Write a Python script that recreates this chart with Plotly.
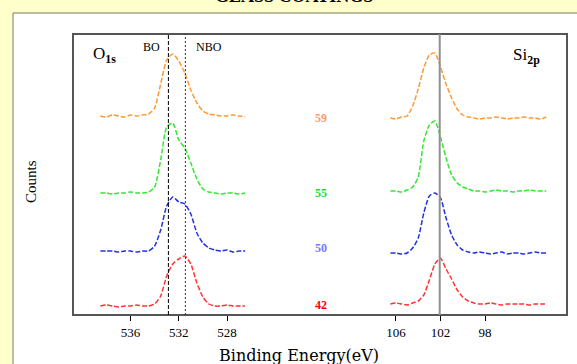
import plotly.graph_objects as go

# ---------------- data ----------------
series_names = ["59", "55", "50", "42"]
series_colors = ["#FF9933", "#33E833", "#2233DD", "#FF3333"]
label_colors = ["#FF9966", "#22DD22", "#7777FF", "#FF0000"]

# O 1s binding energies (eV)
o1s_energy = [538.5, 538.0, 537.5, 537.0, 536.5, 536.0, 535.5, 535.0, 534.5, 534.0,
              533.5, 533.0, 532.5, 532.0, 531.5, 531.0, 530.5, 530.0, 529.5, 529.0,
              528.5, 528.0, 527.5, 527.0, 526.5]
# intensities above each spectrum's baseline (a.u.)
o1s_59 = [0, -1, 1, 0, -1, 1, 0, 1, 2, 8, 32, 56, 62, 55, 43, 26, 13, 5, 2, 1, 0, 0, 1, 0, -1]
o1s_55 = [0, 0, -1, 0, 0, 1, 0, 0, 1, 6, 33, 66, 70, 53, 45, 30, 14, 4, 1, 0, -1, 0, 0, -1, 0]
o1s_50 = [0, 0, 0, -1, 0, 0, -1, 0, 0, 5, 21, 45, 54, 49, 47, 37, 18, 8, 3, 1, 0, 1, -1, 0, 0]
o1s_42 = [0, 1, 0, -1, 0, 0, 1, 0, 0, 2, 10, 30, 42, 47, 50, 42, 23, 9, 2, 0, 0, 1, 0, 0, 0]

# Si 2p binding energies (eV)
si2p_energy = [106.5, 106.0, 105.5, 105.0, 104.5, 104.0, 103.5, 103.0, 102.5, 102.0,
               101.5, 101.0, 100.5, 100.0, 99.5, 99.0, 98.5, 98.0, 97.5, 97.0,
               96.5, 96.0, 95.5, 95.0, 94.5, 94.0, 93.5, 93.0, 92.5]
si2p_59 = [0, -1, 1, 2, 12, 29, 50, 63, 65, 51, 34, 20, 9, 3, 1, 0, -1, 0, 0, 1, 0, -1, 0, 0, 1, 0, 0, -1, 1]
si2p_55 = [0, 0, -1, 1, 4, 14, 50, 66, 70, 54, 33, 16, 8, 4, 2, 0, 0, -1, 0, 1, 0, 0, -1, 0, 0, 1, 0, 0, 0]
si2p_50 = [0, 0, -1, 0, 5, 15, 40, 57, 60, 55, 35, 18, 8, 3, 1, 0, 1, 0, -1, 0, 1, -1, 0, 0, -1, 0, 1, 0, 0]
si2p_42 = [0, 1, 0, -1, 1, 3, 9, 24, 40, 46, 35, 25, 14, 7, 3, 1, 0, 0, 1, 0, -1, 0, 0, 0, 0, -1, 0, 0, 0]

# vertical stacking offsets of the spectra (a.u.)
o1s_offsets = [202, 125, 67, 12]
si2p_offsets = [200, 127, 65, 14]

o1s_ticks = [536, 532, 528]
si2p_ticks = [106, 102, 98]
bo_energy = 532.86
nbo_energy = 531.45
si_ref_energy = 102.07

o1s_series = [o1s_59, o1s_55, o1s_50, o1s_42]
si2p_series = [si2p_59, si2p_55, si2p_50, si2p_42]

# ---------------- figure ----------------
W, H = 577, 364
ML, MR, MT, MB = 73, 10, 34, 49
PW, PH = W - ML - MR, H - MT - MB


def px_x(p):
    return (p - ML) / PW


def px_y(p):
    return (H - MB - p) / PH


SERIF = "Liberation Serif, Times New Roman, serif"
fig = go.Figure()

for name, col, vals, off in zip(series_names, series_colors, o1s_series, o1s_offsets):
    fig.add_trace(go.Scatter(
        x=o1s_energy, y=[v + off for v in vals], mode="lines", name=name,
        line=dict(color=col, width=1.5, dash="5px,2px", shape="spline", smoothing=0.6),
        xaxis="x", yaxis="y", showlegend=False))

for name, col, vals, off in zip(series_names, series_colors, si2p_series, si2p_offsets):
    fig.add_trace(go.Scatter(
        x=si2p_energy, y=[v + off for v in vals], mode="lines", name=name,
        line=dict(color=col, width=1.5, dash="5px,2px", shape="spline", smoothing=0.6),
        xaxis="x2", yaxis="y", showlegend=False))

split = px_x(320)
tickfont = dict(family=SERIF, size=13, color="black")
fig.update_layout(
    width=W, height=H,
    margin=dict(l=ML, r=MR, t=MT, b=MB),
    paper_bgcolor="#FFFFCC",
    plot_bgcolor="white",
    xaxis=dict(domain=[0, split], range=[540.77, 520.29], tickvals=o1s_ticks,
               ticks="outside", ticklen=5, tickcolor="black", tickwidth=1,
               showgrid=False, zeroline=False, showline=False, tickfont=tickfont,
               anchor="y"),
    xaxis2=dict(domain=[split, 1], range=[112.83, 90.63], tickvals=si2p_ticks,
                ticks="outside", ticklen=5, tickcolor="black", tickwidth=1,
                showgrid=False, zeroline=False, showline=False, tickfont=tickfont,
                anchor="y"),
    yaxis=dict(range=[3, 284], showticklabels=False, ticks="", showgrid=False,
               zeroline=False, showline=False),
)

shapes = [
    # white panel
    dict(type="rect", xref="paper", yref="paper", x0=px_x(13), x1=px_x(590),
         y0=px_y(13), y1=px_y(400), fillcolor="white",
         line=dict(color="#7A7A5A", width=1), layer="below"),
    # plot frame
    dict(type="rect", xref="paper", yref="paper", x0=0, x1=1, y0=0, y1=1,
         line=dict(color="#555555", width=2), layer="above"),
    # BO / NBO markers
    dict(type="line", xref="x", yref="paper", x0=bo_energy, x1=bo_energy, y0=0, y1=1,
         line=dict(color="black", width=1, dash="4px,2px")),
    dict(type="line", xref="x", yref="paper", x0=nbo_energy, x1=nbo_energy, y0=0, y1=1,
         line=dict(color="#333333", width=1, dash="2px,2px")),
    # Si reference line
    dict(type="line", xref="x2", yref="paper", x0=si_ref_energy, x1=si_ref_energy, y0=0, y1=1,
         line=dict(color="#909090", width=2)),
]
fig.update_layout(shapes=shapes)


def note(px, py, text, size, color="black", family=SERIF, xanchor="center",
         yanchor="middle", angle=0):
    return dict(x=px_x(px), y=px_y(py), xref="paper", yref="paper", text=text,
                xanchor=xanchor, yanchor=yanchor, textangle=angle, showarrow=False,
                font=dict(family=family, size=size, color=color))


ann = []
# series labels in the middle
for name, lc, py in zip(series_names, label_colors, [118, 193, 248, 305]):
    ann.append(note(321, py, f"<b>{name}</b>", 12, lc))
ann += [
    note(91, 55, "O<sub><b>1s</b></sub>", 17, xanchor="left"),
    note(511, 56, "Si<sub><b>2p</b></sub>", 17, xanchor="left"),
    note(151.5, 47, "BO", 12),
    note(208.5, 47, "NBO", 12),
    note(31, 182, "Counts", 15, angle=-90),
    note(299, 355, "Binding Energy(eV)", 16, family="DejaVu Serif, serif"),
    note(294, 8, "<b>GLASS COATINGS</b>", 18, yanchor="bottom"),
]
fig.update_layout(annotations=ann)

fig.write_html("out.html", config={"displayModeBar": False},
               post_script="document.body.style.margin='0px';")
